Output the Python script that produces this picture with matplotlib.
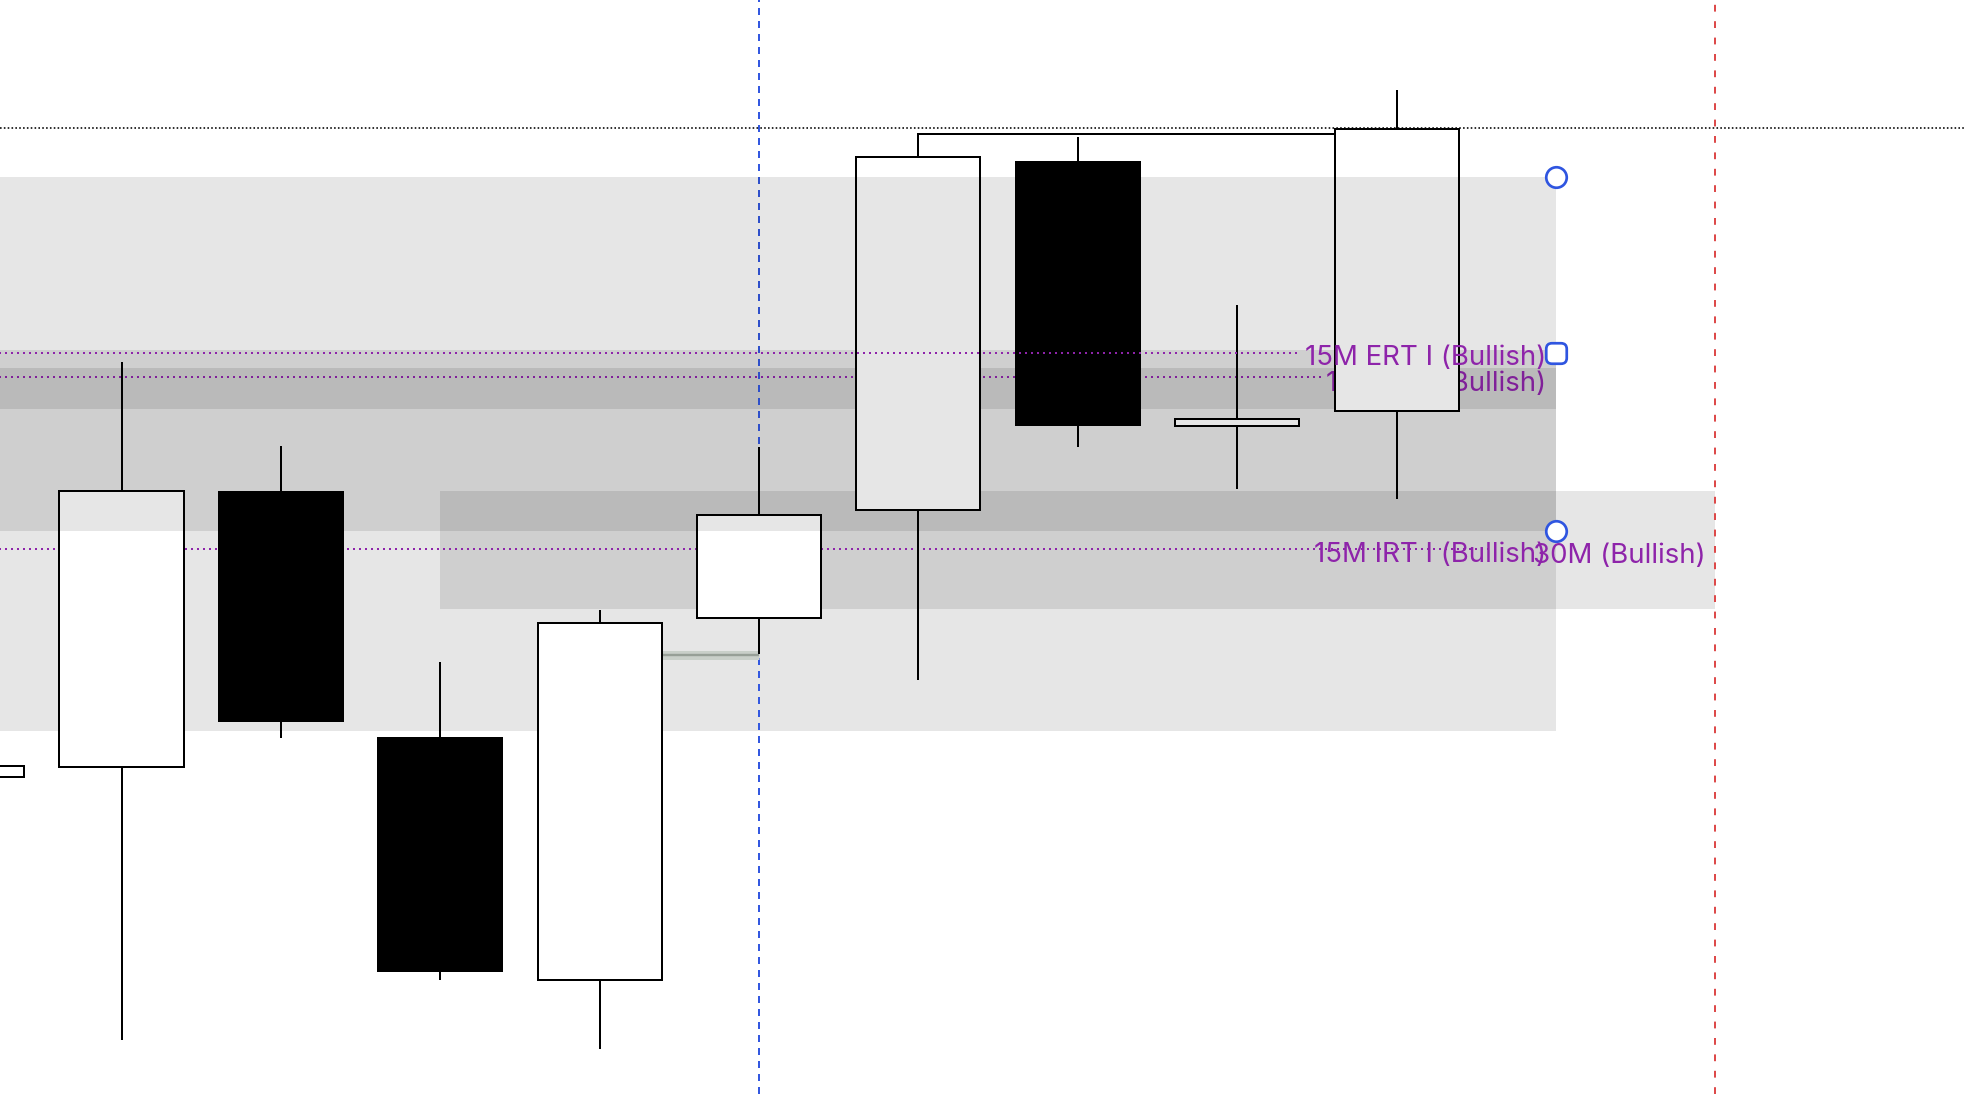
import matplotlib
matplotlib.use("Agg")
import matplotlib.pyplot as plt
from matplotlib.patches import Rectangle, FancyBboxPatch

# ---------------- data ----------------
candle_idx = [-1, 0, 1, 2, 3, 4, 5, 6, 7, 8]
opens  = [4380, 4388, 4607, 4411, 4218, 4507, 4593, 4871, 4660, 4672]
closes = [4389, 4608, 4425, 4225, 4503, 4589, 4875, 4661, 4666, 4897]
highs  = [4395, 4711, 4644, 4472, 4513, 4643, 4893, 4891, 4757, 4928]
lows   = [4372, 4170, 4411, 4218, 4163, 4478, 4457, 4643, 4610, 4602]

# zones: start index, end index, low price, high price
zone_top_start, zone_top_end, zone_top_lo, zone_top_hi = -2, 9, 4576, 4859        # 15M ERT I zone (drawn over candles)
zones_under_start = [-2, -2, 2]
zones_under_end   = [9, 9, 10]
zones_under_lo    = [4417, 4674, 4514]
zones_under_hi    = [4721, 4706, 4608]

label_texts = ["15M ERT I (Bullish)", "1H ERT I (Bullish)", "15M IRT I (Bullish)", "30M (Bullish)"]
label_x     = [9, 9, 9, 10]
label_price = [4718, 4699, 4562, 4561]

level_black = 4898          # dotted black level
swing_high_price = 4893     # connecting line from candle 5 high
swing_from, swing_to = 5, 8
grey_level = 4477
grey_from, grey_to = 3.39, 4
irt_line_end = 8.6
blue_x = 4
red_x = 10
marker_x = [9, 9, 9]
marker_price = [4859, 4718, 4576]
marker_kind = ["o", "sq", "o"]

PX = 0.72  # points per pixel at dpi 100

fig = plt.figure(figsize=(19.64, 10.94), dpi=100)
ax = fig.add_axes([0, 0, 1, 1])
ax.set_xlim(-0.7623, 11.5599)
ax.set_ylim(4127, 5000)
ax.axis("off")

purple = "#8e24aa"
zone_alpha = 0.098

# zones below candles
for xs, xe, lo, hi in zip(zones_under_start, zones_under_end, zones_under_lo, zones_under_hi):
    ax.add_patch(Rectangle((xs, lo), xe - xs, hi - lo, facecolor="black",
                           alpha=zone_alpha, edgecolor="none", zorder=1))
# top zone above candles
ax.add_patch(Rectangle((zone_top_start, zone_top_lo), zone_top_end - zone_top_start,
                       zone_top_hi - zone_top_lo, facecolor="black", alpha=zone_alpha,
                       edgecolor="none", zorder=4))

# vertical lines
ax.axvline(blue_x, color="#3358e0", lw=2 * PX, ls=(0, (3.5, 3)), zorder=1.5)
ax.axvline(red_x, color="#dd4a4a", lw=2 * PX, ls=(0, (3.4, 4.8)), zorder=1.5)

# black dotted level
ax.axhline(level_black, color="black", lw=1.6 * PX, ls=(0, (1, 1.4)), zorder=5)

# grey line
ax.plot([grey_from, grey_to], [grey_level, grey_level], color="#c9cfc9", lw=9 * PX,
        solid_capstyle="butt", zorder=2)
ax.plot([grey_from, grey_to], [grey_level, grey_level], color="#979f97", lw=2.4 * PX,
        solid_capstyle="butt", zorder=2.1)

# swing high line
ax.plot([swing_from, swing_from, swing_to], [highs[candle_idx.index(swing_from)], swing_high_price, swing_high_price],
        color="black", lw=2 * PX, zorder=2.5)

# candles
bw = 0.778
for i, o, c, h, l in zip(candle_idx, opens, closes, highs, lows):
    ax.plot([i, i], [l, h], color="black", lw=2 * PX, zorder=2.9, solid_capstyle="butt")
    bull = c >= o
    ax.add_patch(Rectangle((i - bw / 2, min(o, c)), bw, abs(c - o),
                           facecolor="white" if bull else "black", edgecolor="black",
                           lw=2 * PX, zorder=3))

# labels
txts = []
zs = [6, 2.6, 6, 6]
yoffs = [-12, -14, -13, -13]
for t, x, p, z, yo in zip(label_texts, label_x, label_price, zs, yoffs):
    txt = ax.annotate(t, (x, p), xytext=(-10, yo), textcoords="offset pixels",
                      ha="right", va="baseline", color=purple, fontsize=19.9,
                      family=["Inter", "DejaVu Sans"], zorder=z)
    txts.append(txt)

fig.canvas.draw()
inv = ax.transData.inverted()
ends = []
for txt in txts[:2]:
    bb = txt.get_window_extent()
    ends.append(inv.transform((bb.x0 - 4, 0))[0])

ax.plot([-0.8, ends[0]], [label_price[0]] * 2, color=purple, lw=2 * PX, ls=(0, (1, 2)), zorder=5)
ax.plot([-0.8, ends[1]], [label_price[1]] * 2, color=purple, lw=2 * PX, ls=(0, (1, 2)), zorder=2.5)
ax.plot([-0.8, irt_line_end], [label_price[2]] * 2, color=purple, lw=2 * PX, ls=(0, (1, 2)), zorder=2.5)

# markers
rpath = FancyBboxPatch((-0.5, -0.5), 1, 1, boxstyle="round,pad=0,rounding_size=0.28").get_path()
for mx, mp, k in zip(marker_x, marker_price, marker_kind):
    ax.plot([mx], [mp], marker=("o" if k == "o" else rpath), ms=20.5 * PX, mew=2.7 * PX,
            mec="#2f55e0", mfc="white", zorder=8, linestyle="none")

fig.savefig("out.png", dpi=100)
